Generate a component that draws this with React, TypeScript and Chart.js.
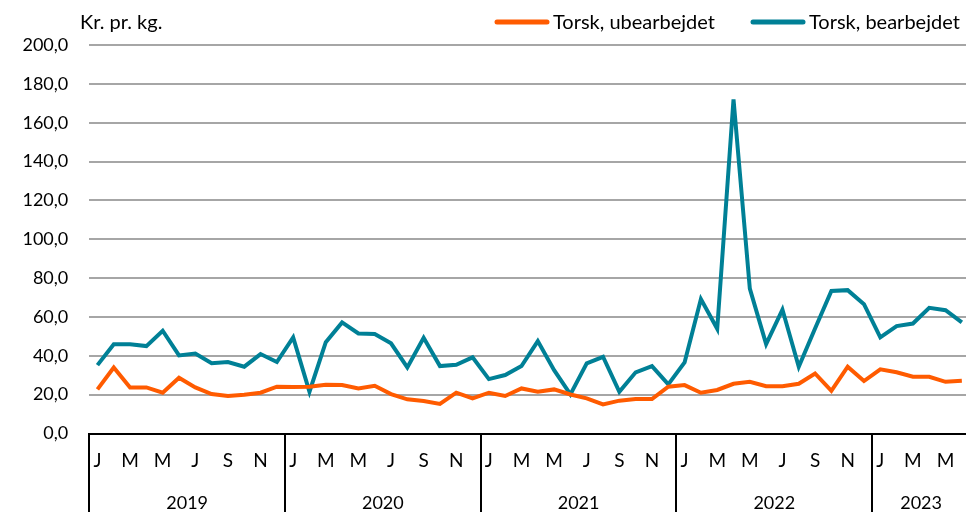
import React, { useEffect, useRef } from "react";
import { Chart, registerables } from "chart.js";

Chart.register(...registerables);

const years = ["2019", "2020", "2021", "2022", "2023"];
const monthsPerYear = [12, 12, 12, 12, 6];
const monthLetters = ["J", "F", "M", "A", "M", "J", "J", "A", "S", "O", "N", "D"];

const ubearbejdet = [
  22.7, 34.0, 23.7, 23.7, 21.0, 28.7, 23.7, 20.3, 19.3, 20.0, 21.0, 24.1,
  23.9, 24.1, 25.1, 25.0, 23.2, 24.6, 20.3, 17.6, 16.7, 15.2, 21.0, 18.1,
  21.0, 19.3, 23.2, 21.5, 22.7, 20.1, 18.1, 15.0, 16.9, 17.7, 17.7, 24.1,
  24.9, 21.0, 22.4, 25.6, 26.6, 24.3, 24.3, 25.6, 30.9, 22.0, 34.4, 27.0,
  33.0, 31.5, 29.2, 29.2, 26.6, 27.1,
];

const bearbejdet = [
  35.2, 45.9, 45.9, 45.0, 52.9, 40.2, 41.2, 36.2, 36.8, 34.4, 40.9, 36.8,
  49.5, 21.5, 47.0, 57.2, 51.5, 51.2, 46.4, 34.0, 49.3, 34.7, 35.4, 39.2,
  28.0, 30.1, 34.7, 47.6, 32.6, 20.1, 36.1, 39.5, 21.5, 31.5, 34.7, 25.3,
  36.6, 69.2, 53.9, 172.0, 74.6, 46.0, 63.8, 34.4, 54.1, 73.4, 73.8, 66.6,
  49.5, 55.3, 56.6, 64.7, 63.5, 57.2,
];

const seriesNames = ["Torsk, ubearbejdet", "Torsk, bearbejdet"];
const yTicks = [0, 20, 40, 60, 80, 100, 120, 140, 160, 180, 200];
const unitLabel = "Kr. pr. kg.";

const ORANGE = "#FF5B00";
const BLUE = "#008096";
const FONT = "Lato, 'Open Sans', sans-serif";

const labels: string[] = [];
monthsPerYear.forEach((n) => {
  for (let m = 0; m < n; m++) labels.push(monthLetters[m]);
});

const decorPlugin = {
  id: "decor",
  afterDraw(chart: any) {
    const { ctx, chartArea, scales } = chart;
    const x = scales.x;
    const half = (x.getPixelForValue(1) - x.getPixelForValue(0)) / 2;
    const h = chart.height;
    ctx.save();
    // year separators and labels
    ctx.strokeStyle = "#000";
    ctx.lineWidth = 2;
    ctx.fillStyle = "#000";
    ctx.font = `18px ${FONT}`;
    ctx.textAlign = "center";
    ctx.textBaseline = "middle";
    let idx = 0;
    years.forEach((yr, i) => {
      const start = idx;
      const end = idx + monthsPerYear[i] - 1;
      const x0 = x.getPixelForValue(start) - half;
      const x1 = x.getPixelForValue(end) + half;
      ctx.beginPath();
      ctx.moveTo(Math.round(x0), chartArea.bottom);
      ctx.lineTo(Math.round(x0), h);
      ctx.stroke();
      ctx.fillText(yr, (x0 + x1) / 2, 503);
      idx = end + 1;
    });
    // unit label
    ctx.font = `20px ${FONT}`;
    ctx.textAlign = "left";
    ctx.textBaseline = "alphabetic";
    ctx.fillText(unitLabel, 80, 29);
    // legend
    const items = [
      { name: seriesNames[0], color: ORANGE, x: 497 },
      { name: seriesNames[1], color: BLUE, x: 753 },
    ];
    items.forEach((it) => {
      ctx.strokeStyle = it.color;
      ctx.lineWidth = 5;
      ctx.lineCap = "round";
      ctx.beginPath();
      ctx.moveTo(it.x, 22);
      ctx.lineTo(it.x + 50, 22);
      ctx.stroke();
      ctx.fillStyle = "#000";
      ctx.fillText(it.name, it.x + 56, 28.5);
    });
    ctx.restore();
  },
};

export default function App() {
  const ref = useRef<HTMLCanvasElement>(null);
  useEffect(() => {
    if (!ref.current) return;
    const chart = new Chart(ref.current, {
      type: "line",
      data: {
        labels,
        datasets: [
          {
            label: seriesNames[0],
            data: ubearbejdet,
            borderColor: ORANGE,
            backgroundColor: ORANGE,
            borderWidth: 4,
            pointRadius: 0,
            tension: 0,
          },
          {
            label: seriesNames[1],
            data: bearbejdet,
            borderColor: BLUE,
            backgroundColor: BLUE,
            borderWidth: 4,
            pointRadius: 0,
            tension: 0,
          },
        ],
      },
      options: {
        responsive: false,
        animation: false,
        layout: { padding: { left: 0, right: 20, top: 45, bottom: 0 } },
        plugins: {
          legend: { display: false },
          tooltip: { enabled: false },
          title: { display: false },
        },
        scales: {
          x: {
            type: "category",
            offset: true,
            grid: { display: false, drawTicks: false },
            border: { display: true, color: "#000", width: 2 },
            ticks: {
              autoSkip: false,
              maxRotation: 0,
              minRotation: 0,
              padding: 16,
              color: "#000",
              font: { family: FONT, size: 19 },
              callback: (_v: any, i: number) => (i % 2 === 0 ? labels[i] : ""),
            },
            afterFit: (s: any) => {
              s.height = 78.5;
            },
          },
          y: {
            min: 0,
            max: 200,
            afterBuildTicks: (s: any) => {
              s.ticks = yTicks.map((v) => ({ value: v }));
            },
            grid: {
              drawTicks: false,
              lineWidth: 2,
              color: (c: any) => (c.tick && c.tick.value === 0 ? "rgba(0,0,0,0)" : "#A6A6A6"),
            },
            border: { display: false },
            ticks: {
              padding: 21,
              color: "#000",
              font: { family: FONT, size: 18 },
              callback: (v: any) => Number(v).toFixed(1).replace(".", ","),
            },
            afterFit: (s: any) => {
              s.width = 89.3;
            },
          },
        },
      },
      plugins: [decorPlugin],
    });
    return () => chart.destroy();
  }, []);
  return (
    <div style={{ position: "absolute", left: 0, top: 0, width: 966, height: 512, overflow: "hidden", background: "#fff" }}>
      <canvas ref={ref} width={990} height={512} style={{ display: "block" }} />
    </div>
  );
}
